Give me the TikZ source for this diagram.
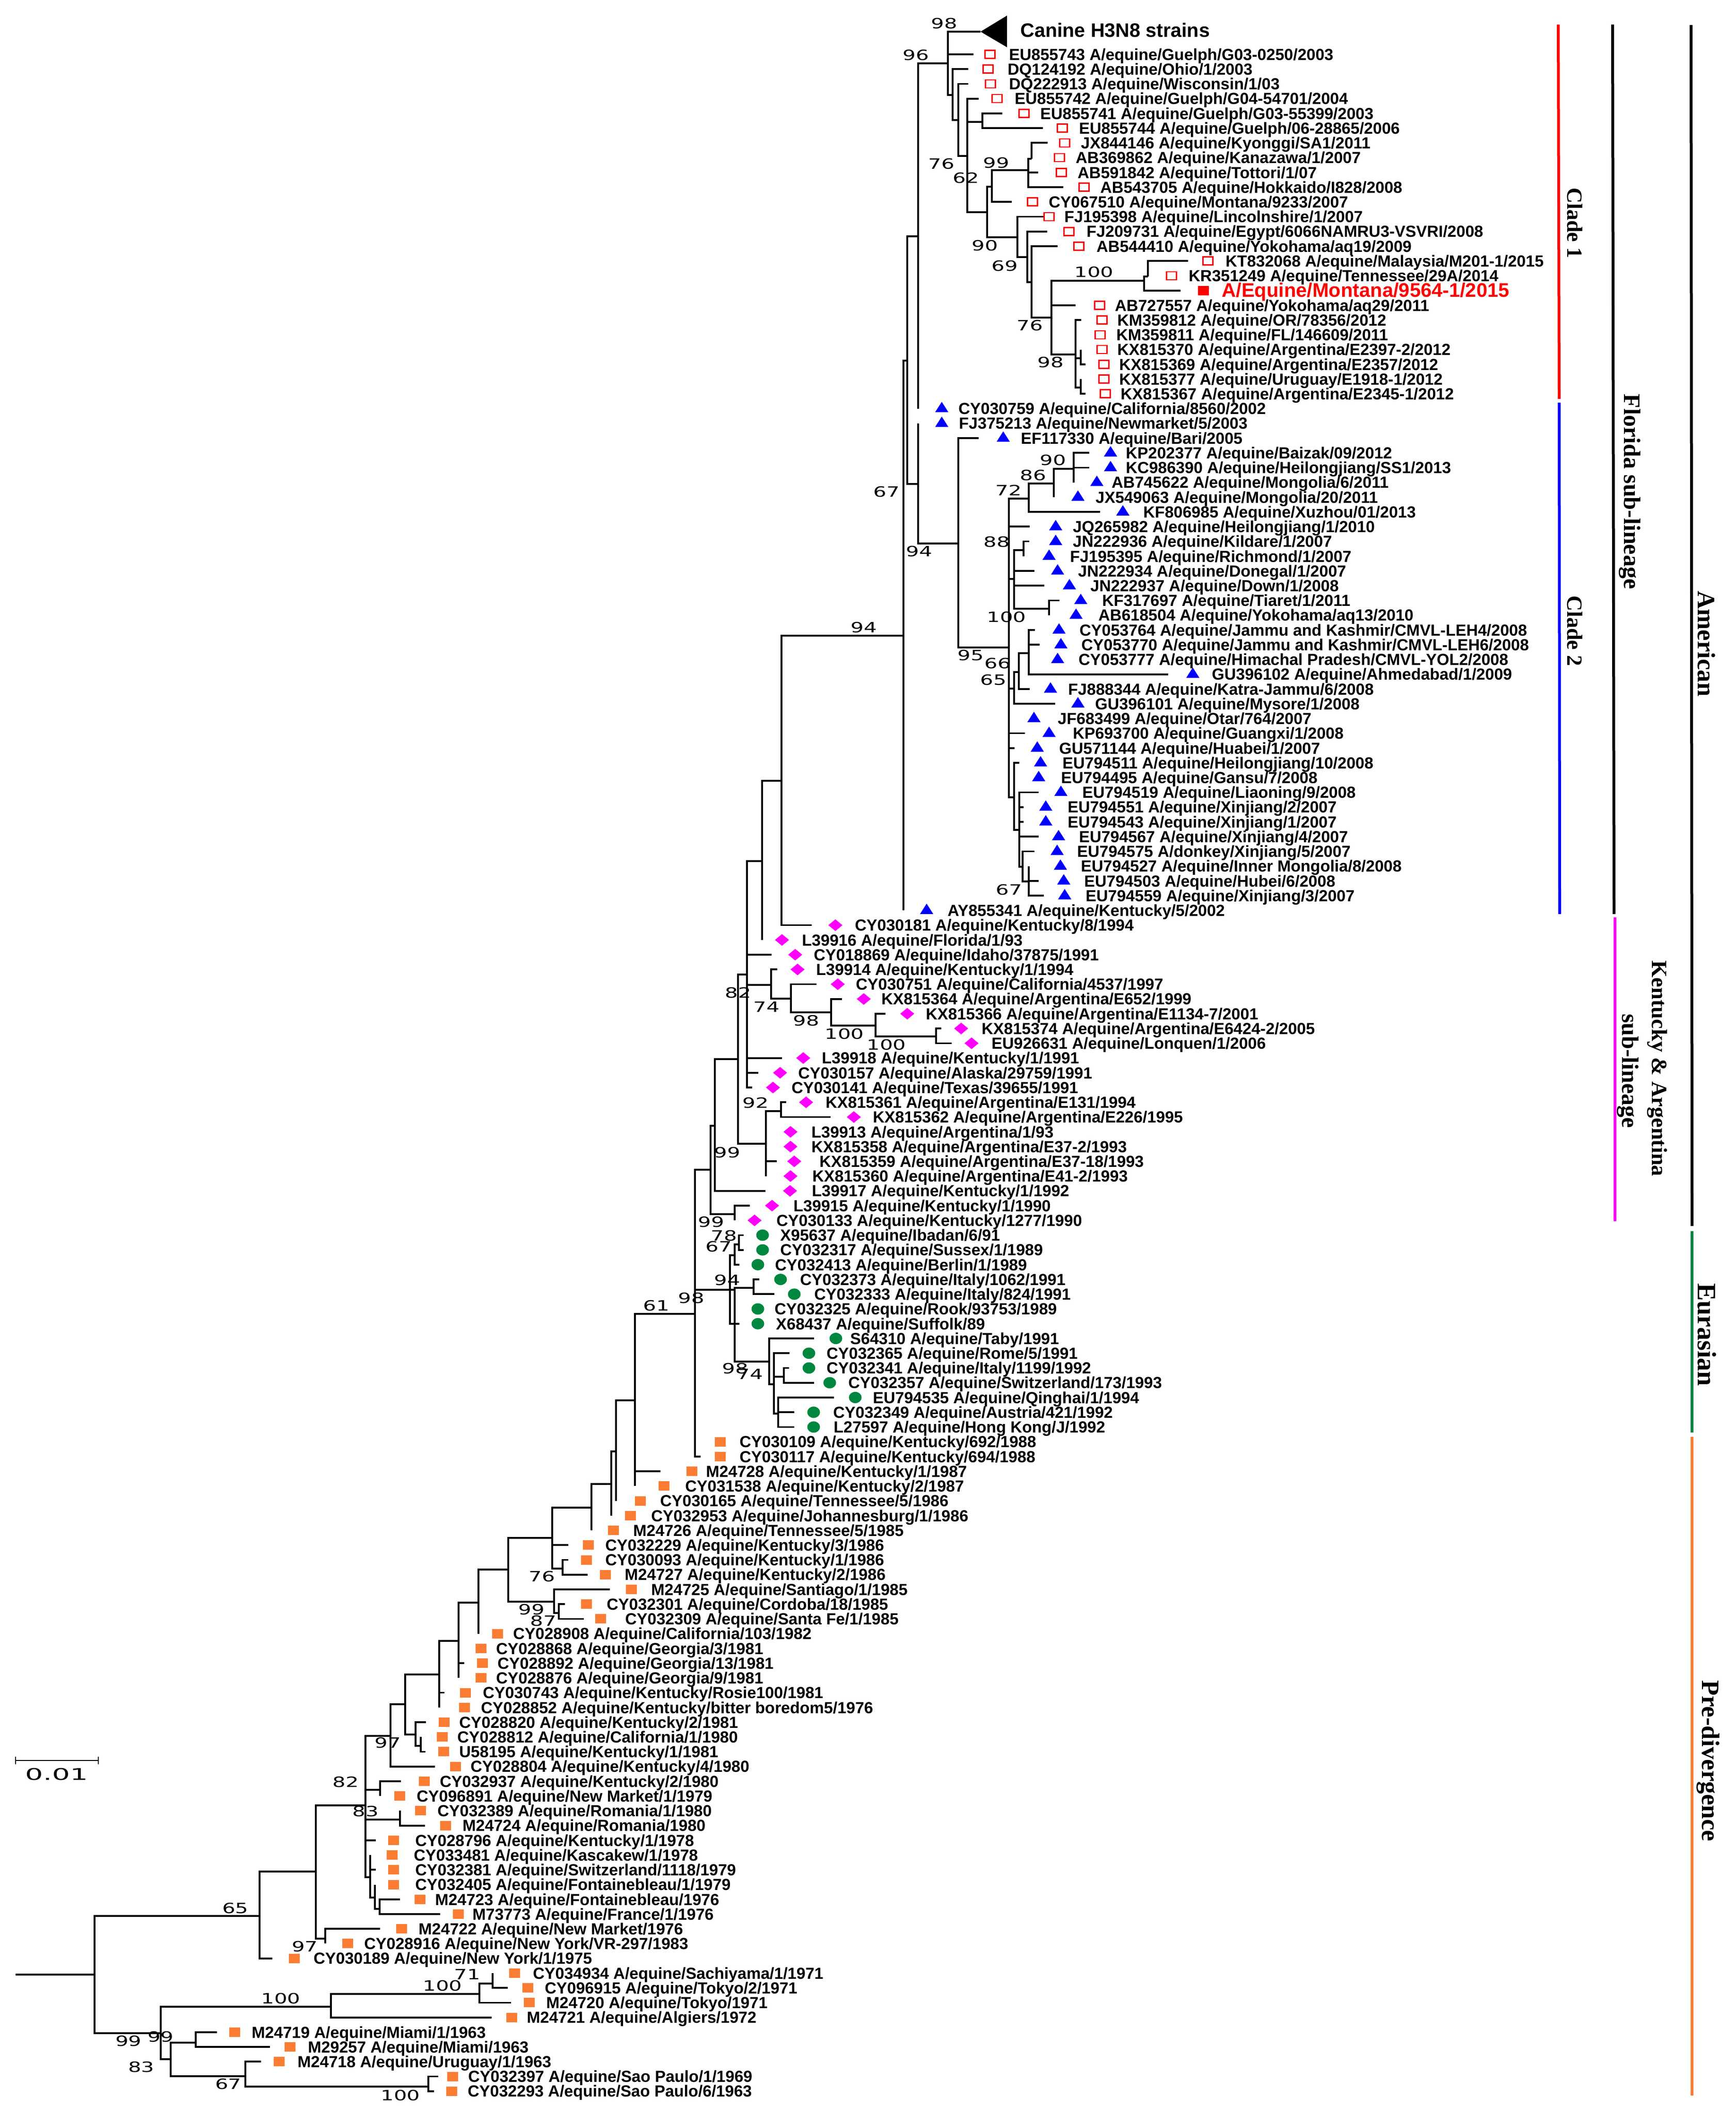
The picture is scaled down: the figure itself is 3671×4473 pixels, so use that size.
\documentclass[tikz,border=0pt]{standalone}
\usepackage{fontspec}
\usepackage{graphicx}
\setmainfont{Liberation Sans}
\newfontfamily\serifb{Liberation Serif}
\newfontfamily\supfont{DejaVu Sans}
\usetikzlibrary{shapes.geometric}
\definecolor{grn}{HTML}{00873F}
\definecolor{org}{HTML}{FB7D33}
\definecolor{mag}{RGB}{255,0,255}
\tikzset{
 x=0.5pt,y=-0.5pt,
 branch/.style={draw=black,line width=1.9pt},
 bar/.style={line width=3pt},
 lab/.style={anchor=base west,inner sep=0pt,yshift=-6.1pt,font=\bfseries\fontsize{17}{18}\selectfont},
 mred/.style={draw=red,line width=1.3pt,fill=white,rectangle,inner sep=0pt,minimum width=10.5pt,minimum height=8.5pt},
 mblue/.style={fill=blue,isosceles triangle,isosceles triangle stretches,shape border rotate=90,inner sep=0pt,minimum width=14pt,minimum height=11pt},
 mmag/.style={fill=mag,diamond,inner sep=0pt,minimum width=15pt,minimum height=12.5pt},
 mgrn/.style={fill=grn,ellipse,inner sep=0pt,minimum width=13.5pt,minimum height=12pt},
 morg/.style={fill=org,rectangle,inner sep=0pt,minimum width=11.5pt,minimum height=10pt},
 mfill/.style={fill=red,rectangle,inner sep=0pt,minimum width=11.5pt,minimum height=10pt},
 supp/.style={inner sep=0pt,font=\supfont\fontsize{15}{15}\selectfont},
 grp/.style={inner sep=0pt,rotate=-90,font=\serifb\bfseries\fontsize{#1}{#1}\selectfont},
}
% internal tree node: name, x, y, parent
\newcommand{\cn}[4]{\coordinate (#1) at (#2,#3);\draw[branch] (#4) |- (#1);}
% leaf: row, tip x, marker x, text x, marker style, text, parent
\newcommand{\lf}[7]{%
 \pgfmathsetmacro\yy{115+31.23*#1}%
 \coordinate (t#1) at (#2,\yy);
 \draw[branch] (#7) |- (t#1);
 \node[#5] (m#1) at (#3,\yy) {};
 \node[lab] (l#1) at (#4,\yy) {#6};}
% support value
\newcommand{\sv}[3]{\node[supp] (s#1-#2) at (#1,#2) {\scalebox{1.45}[1]{#3}};}
\begin{document}
\begin{tikzpicture}
\useasboundingbox (0,0) rectangle (3671,4473);
\fill[white] (0,0) rectangle (3671,4473);
\coordinate (root) at (33,4178);
\cn{BX}{200}{4178}{root}
\cn{BW}{549}{4054}{BX}
\cn{BY}{340}{4302}{BX}
\cn{BU}{668}{3960}{BW}
\cn{BO}{773}{3820}{BU}
\cn{BV}{688}{4102}{BU}
\cn{BN}{826}{3673}{BO}
\cn{BP}{804}{3787}{BO}
\cn{BQ}{846}{3850}{BO}
\cn{BR}{783}{3972}{BO}
\cn{BS}{793}{4015}{BR}
\cn{BT}{803}{4039}{BS}
\cn{BL}{857}{3606}{BN}
\cn{BK}{929}{3543}{BL}
\cn{BM}{879}{3670}{BL}
\cn{BMa}{890}{3694}{BM}
\cn{BJ}{970}{3472}{BK}
\cn{BI}{1012}{3391}{BJ}
\cn{BG}{1075}{3321}{BI}
\cn{BF}{1168}{3254}{BG}
\cn{BH}{1172}{3389}{BG}
\cn{BHa}{1182}{3413}{BH}
\cn{BE}{1251}{3190}{BF}
\cn{BFa}{1190}{3319}{BF}
\cn{BD}{1293}{3140}{BE}
\cn{BC}{1303}{3071}{BD}
\cn{AU}{1343}{2963}{BC}
\cn{AS}{1470}{2780}{AU}
\cn{AQ}{1503}{2475}{AS}
\cn{AT}{1544}{2729}{AS}
\cn{AVa}{1554}{2656}{AT}
\cn{AVb}{1563}{2633}{AVa}
\cn{AX}{1554}{2729}{AT}
\cn{AXa}{1594}{2725}{AX}
\cn{AY}{1627}{2881}{AX}
\cn{AZ}{1637}{2929}{AY}
\cn{BA}{1658}{2913}{AZ}
\cn{BB}{1646}{2991}{AZ}
\cn{AP}{1512}{2382}{AQ}
\cn{AR}{1554}{2569}{AQ}
\cn{AN}{1561}{2241}{AP}
\cn{AG}{1580}{2062}{AN}
\cn{AO}{1620}{2420}{AN}
\cn{AOa}{1652}{2351}{AO}
\cn{AH}{1612}{1822}{AG}
\cn{AI}{1631}{2084}{AG}
\cn{AJ}{1673}{2113}{AI}
\cn{AK}{1758}{2142}{AJ}
\cn{AL}{1852}{2170}{AK}
\cn{AM}{1980}{2193}{AL}
\cn{AF}{1653}{1652}{AH}
\cn{A}{1911}{1345}{AF}
\cn{B}{1919}{763}{A}
\cn{C}{1942}{500}{B}
\cn{D}{1942}{1024}{B}
\cn{E}{2005}{134}{C}
\cn{G}{2015}{201}{E}
\cn{H}{2027}{254}{G}
\cn{I}{2046}{330}{H}
\cn{J}{2078}{258}{I}
\cn{K}{2088}{449}{I}
\cn{L}{2098}{395}{K}
\cn{M}{2152}{502}{K}
\cn{N}{2175}{360}{L}
\cn{O}{2182}{336}{N}
\cn{P}{2173}{544}{M}
\cn{Q}{2182}{597}{P}
\cn{R}{2224}{672}{Q}
\cn{S}{2420}{594}{R}
\cn{U}{2428}{585}{S}
\cn{T}{2275}{750}{R}
\cn{V}{2286}{758}{T}
\cn{W}{2286}{820}{T}
\cn{F}{2027}{1150}{D}
\cn{X}{2134}{1370}{F}
\cn{Y}{2176}{1055}{X}
\cn{Ya}{2229}{1023}{Y}
\cn{Yb}{2271}{992}{Ya}
\cn{Z}{2145}{1225}{X}
\cn{Za}{2165}{1164}{Z}
\cn{Zb}{2219}{1288}{Z}
\cn{AAx}{2145}{1457}{X}
\cn{AAa}{2155}{1422}{AAx}
\cn{AAb}{2176}{1382}{AAa}
\cn{ABx}{2145}{1687}{X}
\cn{AC}{2156}{1756}{ABx}
\cn{AD}{2163}{1834}{AC}
\cn{AE}{2176}{1865}{AD}
\cn{CaT}{2074}{67}{E}
\fill (CaT) -- (2130,33) -- (2130,100) -- cycle;
\node[anchor=base west,inner sep=0pt,font=\bfseries\fontsize{20.6}{21}\selectfont] (canine) at (2158,79) {Canine H3N8 strains};
\cn{BZ}{700}{4246}{BY}
\cn{CA}{361}{4357}{BY}
\cn{CB}{1014}{4219}{BZ}
\cn{CC}{1042}{4197}{CB}
\cn{CD}{414}{4322}{CA}
\cn{CE}{519}{4393}{CA}
\cn{CF}{906}{4415}{CE}
% leaves
\lf{0}{2059}{2094}{2134}{mred}{EU855743  A/equine/Guelph/G03-0250/2003}{E}
\lf{1}{2048}{2090}{2131}{mred}{DQ124192 A/equine/Ohio/1/2003}{G}
\lf{2}{2048}{2095}{2134}{mred}{DQ222913 A/equine/Wisconsin/1/03}{H}
\lf{3}{2070}{2109}{2146}{mred}{EU855742 A/equine/Guelph/G04-54701/2004}{I}
\lf{4}{2120}{2166}{2200}{mred}{EU855741 A/equine/Guelph/G03-55399/2003}{J}
\lf{5}{2206}{2247}{2282}{mred}{EU855744 A/equine/Guelph/06-28865/2006}{J}
\lf{6}{2216}{2252}{2286}{mred}{JX844146 A/equine/Kyonggi/SA1/2011}{O}
\lf{7}{2182}{2241}{2275}{mred}{AB369862 A/equine/Kanazawa/1/2007}{O}
\lf{8}{2196}{2245}{2279}{mred}{AB591842 A/equine/Tottori/1/07}{N}
\lf{9}{2249}{2293}{2327}{mred}{AB543705 A/equine/Hokkaido/I828/2008}{N}
\lf{10}{2140}{2184}{2218}{mred}{CY067510 A/equine/Montana/9233/2007}{L}
\lf{11}{2208}{2219}{2251}{mred}{FJ195398 A/equine/Lincolnshire/1/2007}{M}
\lf{12}{2215}{2261}{2298}{mred}{FJ209731 A/equine/Egypt/6066NAMRU3-VSVRI/2008}{P}
\lf{13}{2237}{2282}{2319}{mred}{AB544410 A/equine/Yokohama/aq19/2009}{Q}
\lf{14}{2513}{2555}{2592}{mred}{KT832068 A/equine/Malaysia/M201-1/2015}{U}
\lf{15}{2428}{2478}{2514}{mred}{KR351249 A/equine/Tennessee/29A/2014}{U}
\pgfmathsetmacro\yy{115+31.23*16}
\coordinate (t16) at (2497,\yy);
\draw[branch] (S) |- (t16);
\node[mfill] (m16) at (2545,\yy) {};
\node[lab,text=red,yshift=-1pt,font=\bfseries\fontsize{20.8}{21}\selectfont] (l16) at (2584,\yy) {A/Equine/Montana/9564-1/2015};
\lf{17}{2275}{2326}{2358}{mred}{AB727557 A/equine/Yokohama/aq29/2011}{R}
\lf{18}{2287}{2331}{2363}{mred}{KM359812 A/equine/OR/78356/2012}{T}
\lf{19}{2275}{2327}{2361}{mred}{KM359811 A/equine/FL/146609/2011}{T}
\lf{20}{2286}{2331}{2363}{mred}{KX815370 A/equine/Argentina/E2397-2/2012}{V}
\lf{21}{2296}{2335}{2367}{mred}{KX815369 A/equine/Argentina/E2357/2012}{V}
\lf{22}{2286}{2335}{2367}{mred}{KX815377 A/equine/Uruguay/E1918-1/2012}{W}
\lf{23}{2296}{2338}{2370}{mred}{KX815367 A/equine/Argentina/E2345-1/2012}{W}
\lf{24}{1942}{1992}{2027}{mblue}{CY030759 A/equine/California/8560/2002}{C}
\lf{25}{1942}{1992}{2028}{mblue}{FJ375213 A/equine/Newmarket/5/2003}{D}
\lf{26}{2070}{2122}{2159}{mblue}{EF117330 A/equine/Bari/2005}{F}
\lf{27}{2304}{2349}{2381}{mblue}{KP202377 A/equine/Baizak/09/2012}{Yb}
\lf{28}{2304}{2349}{2381}{mblue}{KC986390 A/equine/Heilongjiang/SS1/2013}{Yb}
\lf{29}{2271}{2320}{2351}{mblue}{AB745622 A/equine/Mongolia/6/2011}{Yb}
\lf{30}{2229}{2280}{2317}{mblue}{JX549063 A/equine/Mongolia/20/2011}{Ya}
\lf{31}{2327}{2375}{2418}{mblue}{KF806985 A/equine/Xuzhou/01/2013}{Y}
\lf{32}{2178}{2233}{2269}{mblue}{JQ265982 A/equine/Heilongjiang/1/2010}{X}
\lf{33}{2177}{2233}{2269}{mblue}{JN222936 A/equine/Kildare/1/2007}{Za}
\lf{34}{2165}{2219}{2263}{mblue}{FJ195395 A/equine/Richmond/1/2007}{Za}
\lf{35}{2188}{2237}{2280}{mblue}{JN222934 A/equine/Donegal/1/2007}{Z}
\lf{36}{2209}{2262}{2306}{mblue}{JN222937 A/equine/Down/1/2008}{Z}
\lf{37}{2241}{2286}{2331}{mblue}{KF317697 A/equine/Tiaret/1/2011}{Zb}
\lf{38}{2219}{2276}{2323}{mblue}{AB618504 A/equine/Yokohama/aq13/2010}{Zb}
\lf{39}{2189}{2240}{2283}{mblue}{CY053764 A/equine/Jammu and Kashmir/CMVL-LEH4/2008}{AAb}
\lf{40}{2199}{2244}{2287}{mblue}{CY053770 A/equine/Jammu and Kashmir/CMVL-LEH6/2008}{AAb}
\lf{41}{2176}{2237}{2281}{mblue}{CY053777 A/equine/Himachal Pradesh/CMVL-YOL2/2008}{AAb}
\lf{42}{2471}{2523}{2563}{mblue}{GU396102 A/equine/Ahmedabad/1/2009}{AAb}
\lf{43}{2178}{2222}{2259}{mblue}{FJ888344 A/equine/Katra-Jammu/6/2008}{AAa}
\lf{44}{2232}{2280}{2316}{mblue}{GU396101 A/equine/Mysore/1/2008}{AAx}
\lf{45}{2134}{2187}{2237}{mblue}{JF683499 A/equine/Otar/764/2007}{X}
\lf{46}{2168}{2219}{2269}{mblue}{KP693700 A/equine/Guangxi/1/2008}{X}
\lf{47}{2146}{2194}{2240}{mblue}{GU571144 A/equine/Huabei/1/2007}{X}
\lf{48}{2156}{2201}{2247}{mblue}{EU794511 A/equine/Heilongjiang/10/2008}{ABx}
\lf{49}{2145}{2197}{2244}{mblue}{EU794495 A/equine/Gansu/7/2008}{ABx}
\lf{50}{2197}{2244}{2289}{mblue}{EU794519 A/equine/Liaoning/9/2008}{AC}
\lf{51}{2165}{2212}{2258}{mblue}{EU794551 A/equine/Xinjiang/2/2007}{AC}
\lf{52}{2165}{2212}{2258}{mblue}{EU794543 A/equine/Xinjiang/1/2007}{AC}
\lf{53}{2197}{2239}{2282}{mblue}{EU794567 A/equine/Xinjiang/4/2007}{AC}
\lf{54}{2188}{2236}{2278}{mblue}{EU794575 A/donkey/Xinjiang/5/2007}{AD}
\lf{55}{2176}{2243}{2286}{mblue}{EU794527 A/equine/Inner Mongolia/8/2008}{AE}
\lf{56}{2197}{2250}{2293}{mblue}{EU794503 A/equine/Hubei/6/2008}{AE}
\lf{57}{2208}{2252}{2296}{mblue}{EU794559 A/equine/Xinjiang/3/2007}{AE}
\lf{58}{1911}{1960}{2004}{mblue}{AY855341 A/equine/Kentucky/5/2002}{A}
\lf{59}{1717}{1767}{1808}{mmag}{CY030181 A/equine/Kentucky/8/1994}{AF}
\lf{60}{1612}{1654}{1696}{mmag}{L39916 A/equine/Florida/1/93}{AH}
\lf{61}{1632}{1682}{1721}{mmag}{CY018869 A/equine/Idaho/37875/1991}{AG}
\lf{62}{1644}{1687}{1726}{mmag}{L39914 A/equine/Kentucky/1/1994}{AI}
\lf{63}{1727}{1772}{1810}{mmag}{CY030751 A/equine/California/4537/1997}{AJ}
\lf{64}{1781}{1827}{1864}{mmag}{KX815364 A/equine/Argentina/E652/1999}{AK}
\lf{65}{1873}{1919}{1958}{mmag}{KX815366 A/equine/Argentina/E1134-7/2001}{AL}
\lf{66}{1991}{2033}{2076}{mmag}{KX815374 A/equine/Argentina/E6424-2/2005}{AM}
\lf{67}{2013}{2055}{2097}{mmag}{EU926631 A/equine/Lonquen/1/2006}{AM}
\lf{68}{1654}{1699}{1738}{mmag}{L39918 A/equine/Kentucky/1/1991}{AG}
\lf{69}{1604}{1650}{1688}{mmag}{CY030157 A/equine/Alaska/29759/1991}{AG}
\lf{70}{1591}{1635}{1674}{mmag}{CY030141 A/equine/Texas/39655/1991}{AG}
\lf{71}{1663}{1705}{1746}{mmag}{KX815361 A/equine/Argentina/E131/1994}{AOa}
\lf{72}{1757}{1806}{1846}{mmag}{KX815362 A/equine/Argentina/E226/1995}{AOa}
\lf{73}{1620}{1672}{1716}{mmag}{L39913 A/equine/Argentina/1/93}{AO}
\lf{74}{1620}{1672}{1716}{mmag}{KX815358 A/equine/Argentina/E37-2/1993}{AO}
\lf{75}{1643}{1680}{1733}{mmag}{KX815359 A/equine/Argentina/E37-18/1993}{AO}
\lf{76}{1620}{1672}{1718}{mmag}{KX815360 A/equine/Argentina/E41-2/1993}{AO}
\lf{77}{1619}{1671}{1717}{mmag}{L39917 A/equine/Kentucky/1/1992}{AP}
\lf{78}{1586}{1633}{1678}{mmag}{L39915 A/equine/Kentucky/1/1990}{AR}
\lf{79}{1554}{1596}{1642}{mmag}{CY030133 A/equine/Kentucky/1277/1990}{AR}
\lf{80}{1573}{1613}{1650}{mgrn}{X95637 A/equine/Ibadan/6/91}{AVb}
\lf{81}{1573}{1613}{1650}{mgrn}{CY032317 A/equine/Sussex/1/1989}{AVb}
\lf{82}{1564}{1603}{1639}{mgrn}{CY032413 A/equine/Berlin/1/1989}{AVa}
\lf{83}{1606}{1651}{1692}{mgrn}{CY032373 A/equine/Italy/1062/1991}{AXa}
\lf{84}{1638}{1680}{1722}{mgrn}{CY032333 A/equine/Italy/824/1991}{AXa}
\lf{85}{1544}{1603}{1638}{mgrn}{CY032325 A/equine/Rook/93753/1989}{AT}
\lf{86}{1564}{1603}{1641}{mgrn}{X68437 A/equine/Suffolk/89}{AT}
\lf{87}{1722}{1768}{1798}{mgrn}{S64310 A/equine/Taby/1991}{AY}
\lf{88}{1670}{1711}{1748}{mgrn}{CY032365 A/equine/Rome/5/1991}{AZ}
\lf{89}{1669}{1711}{1748}{mgrn}{CY032341 A/equine/Italy/1199/1992}{BA}
\lf{90}{1722}{1755}{1794}{mgrn}{CY032357 A/equine/Switzerland/173/1993}{BA}
\lf{91}{1764}{1809}{1846}{mgrn}{EU794535 A/equine/Qinghai/1/1994}{BB}
\lf{92}{1680}{1721}{1762}{mgrn}{CY032349 A/equine/Austria/421/1992}{BB}
\lf{93}{1680}{1721}{1763}{mgrn}{L27597 A/equine/Hong Kong/J/1992}{BB}
\lf{94}{1470}{1523}{1564}{morg}{CY030109 A/equine/Kentucky/692/1988}{AS}
\lf{95}{1482}{1523}{1564}{morg}{CY030117 A/equine/Kentucky/694/1988}{AS}
\lf{96}{1397}{1463}{1493}{morg}{M24728 A/equine/Kentucky/1/1987}{AU}
\lf{97}{1343}{1404}{1449}{morg}{CY031538 A/equine/Kentucky/2/1987}{AU}
\lf{98}{1303}{1354}{1396}{morg}{CY030165 A/equine/Tennessee/5/1986}{BC}
\lf{99}{1293}{1333}{1377}{morg}{CY032953 A/equine/Johannesburg/1/1986}{BD}
\lf{100}{1251}{1297}{1339}{morg}{M24726 A/equine/Tennessee/5/1985}{BE}
\lf{101}{1202}{1244}{1280}{morg}{CY032229 A/equine/Kentucky/3/1986}{BF}
\lf{102}{1202}{1240}{1280}{morg}{CY030093 A/equine/Kentucky/1/1986}{BFa}
\lf{103}{1243}{1280}{1321}{morg}{M24727 A/equine/Kentucky/2/1986}{BFa}
\lf{104}{1290}{1335}{1377}{morg}{M24725 A/equine/Santiago/1/1985}{BH}
\lf{105}{1195}{1240}{1283}{morg}{CY032301 A/equine/Cordoba/18/1985}{BHa}
\lf{106}{1235}{1270}{1322}{morg}{CY032309 A/equine/Santa Fe/1/1985}{BHa}
\lf{107}{1012}{1052}{1085}{morg}{CY028908 A/equine/California/103/1982}{BI}
\lf{108}{970}{1017}{1049}{morg}{CY028868 A/equine/Georgia/3/1981}{BJ}
\lf{109}{982}{1020}{1052}{morg}{CY028892 A/equine/Georgia/13/1981}{BJ}
\lf{110}{970}{1017}{1049}{morg}{CY028876 A/equine/Georgia/9/1981}{BJ}
\lf{111}{940}{984}{1021}{morg}{CY030743 A/equine/Kentucky/Rosie100/1981}{BK}
\lf{112}{929}{982}{1017}{morg}{CY028852 A/equine/Kentucky/bitter boredom5/1976}{BK}
\lf{113}{901}{939}{971}{morg}{CY028820 A/equine/Kentucky/2/1981}{BM}
\lf{114}{890}{935}{967}{morg}{CY028812 A/equine/California/1/1980}{BMa}
\lf{115}{900}{938}{971}{morg}{U58195 A/equine/Kentucky/1/1981}{BMa}
\lf{116}{920}{963}{995}{morg}{CY028804 A/equine/Kentucky/4/1980}{BN}
\lf{117}{848}{897}{930}{morg}{CY032937 A/equine/Kentucky/2/1980}{BP}
\lf{118}{804}{845}{881}{morg}{CY096891 A/equine/New Market/1/1979}{BP}
\lf{119}{846}{889}{925}{morg}{CY032389 A/equine/Romania/1/1980}{BQ}
\lf{120}{899}{942}{978}{morg}{M24724 A/equine/Romania/1980}{BQ}
\lf{121}{795}{832}{878}{morg}{CY028796 A/equine/Kentucky/1/1978}{BO}
\lf{122}{783}{829}{875}{morg}{CY033481 A/equine/Kascakew/1/1978}{BR}
\lf{123}{795}{832}{878}{morg}{CY032381 A/equine/Switzerland/1118/1979}{BR}
\lf{124}{793}{832}{878}{morg}{CY032405 A/equine/Fontainebleau/1/1979}{BS}
\lf{125}{846}{888}{920}{morg}{M24723 A/equine/Fontainebleau/1976}{BT}
\lf{126}{931}{969}{999}{morg}{M73773 A/equine/France/1/1976}{BT}
\lf{127}{804}{849}{885}{morg}{M24722 A/equine/New Market/1976}{BV}
\lf{128}{688}{735}{770}{morg}{CY028916 A/equine/New York/VR-297/1983}{BV}
\lf{129}{576}{622}{663}{morg}{CY030189 A/equine/New York/1/1975}{BW}
\lf{130}{1042}{1088}{1127}{morg}{CY034934 A/equine/Sachiyama/1/1971}{CC}
\lf{131}{1074}{1116}{1152}{morg}{CY096915 A/equine/Tokyo/2/1971}{CC}
\lf{132}{1081}{1119}{1155}{morg}{M24720 A/equine/Tokyo/1971}{CB}
\lf{133}{1040}{1082}{1114}{morg}{M24721 A/equine/Algiers/1972}{BZ}
\lf{134}{459}{496}{532}{morg}{M24719 A/equine/Miami/1/1963}{CD}
\lf{135}{571}{613}{651}{morg}{M29257 A/equine/Miami/1963}{CD}
\lf{136}{552}{590}{629}{morg}{M24718 A/equine/Uruguay/1/1963}{CE}
\lf{137}{927}{957}{990}{morg}{CY032397 A/equine/Sao Paulo/1/1969}{CF}
\lf{138}{918}{955}{989}{morg}{CY032293 A/equine/Sao Paulo/6/1963}{CF}
% support values
\sv{1997}{50}{98}\sv{1937}{117}{96}\sv{1991}{347}{76}\sv{2107}{345}{99}\sv{2043}{377}{62}
\sv{2083}{520}{90}\sv{2125}{563}{69}\sv{2314}{576}{100}\sv{2178}{689}{76}\sv{2222}{767}{98}
\sv{2227}{974}{90}\sv{2185}{1006}{86}\sv{2133}{1037}{72}\sv{1875}{1041}{67}\sv{1944}{1167}{94}
\sv{2108}{1147}{88}\sv{2129}{1306}{100}\sv{1827}{1328}{94}\sv{2053}{1387}{95}\sv{2110}{1404}{66}
\sv{2101}{1439}{65}\sv{2134}{1883}{67}
\sv{1561}{2101}{82}\sv{1621}{2131}{74}\sv{1705}{2160}{98}\sv{1786}{2188}{100}\sv{1875}{2211}{100}
\sv{1598}{2334}{92}\sv{1538}{2439}{99}\sv{1504}{2586}{99}\sv{1531}{2615}{78}\sv{1520}{2638}{67}
\sv{1538}{2709}{94}\sv{1462}{2747}{98}\sv{1388}{2763}{61}\sv{1555}{2896}{98}\sv{1586}{2908}{74}
\sv{1146}{3336}{76}\sv{1124}{3406}{99}\sv{1149}{3430}{87}\sv{820}{3688}{97}
\sv{731}{3771}{82}\sv{773}{3833}{83}\sv{498}{4038}{65}\sv{645}{4119}{97}\sv{988}{4178}{71}
\sv{936}{4202}{100}\sv{594}{4229}{100}\sv{272}{4319}{99}\sv{340}{4310}{99}\sv{299}{4374}{83}
\sv{483}{4410}{67}\sv{847}{4434}{100}
% scale bar
\coordinate (sa) at (33,3725);\coordinate (sb) at (208,3725);
\draw[line width=1.4pt] (sa) -- (sb);
\draw[line width=1.4pt] (33,3717) -- (33,3733);
\draw[line width=1.4pt] (208,3717) -- (208,3733);
\node[inner sep=0pt,font=\supfont\fontsize{17}{17}\selectfont] (scale) at (120,3754) {\scalebox{1.75}[1]{0.01}};
% group bars
\coordinate (c1a) at (3296,52);\coordinate (c1b) at (3298,844);
\draw[bar,red] (c1a) -- (c1b);
\coordinate (c2a) at (3298,852);\coordinate (c2b) at (3299,1934);
\draw[bar,blue] (c2a) -- (c2b);
\coordinate (fa) at (3411,52);\coordinate (fb) at (3414,1934);
\draw[bar,black] (fa) -- (fb);
\coordinate (ama) at (3577,53);\coordinate (amb) at (3579,2594);
\draw[bar,black] (ama) -- (amb);
\coordinate (ka) at (3416,1941);\coordinate (kb) at (3416,2584);
\draw[bar,mag] (ka) -- (kb);
\coordinate (ea) at (3579,2605);\coordinate (eb) at (3579,3031);
\draw[bar,grn] (ea) -- (eb);
\coordinate (pa) at (3579,3040);\coordinate (pb) at (3579,4434);
\draw[bar,org] (pa) -- (pb);
\node[grp=23] (g1) at (3331,472) {Clade 1};
\node[grp=23] (g2) at (3331,1335) {Clade 2};
\node[grp=25] (g3) at (3447,1040) {Florida sub-lineage};
\node[grp=26.5] (g4) at (3610,1362) {American};
\node[grp=23.2] (g5) at (3505,2261) {Kentucky \& Argentina};
\node[grp=25] (g6) at (3443,2266) {sub-lineage};
\node[grp=28] (g7) at (3611,2824) {Eurasian};
\node[grp=26.5] (g8) at (3613,3726) {Pre-divergence};
\end{tikzpicture}
\end{document}
